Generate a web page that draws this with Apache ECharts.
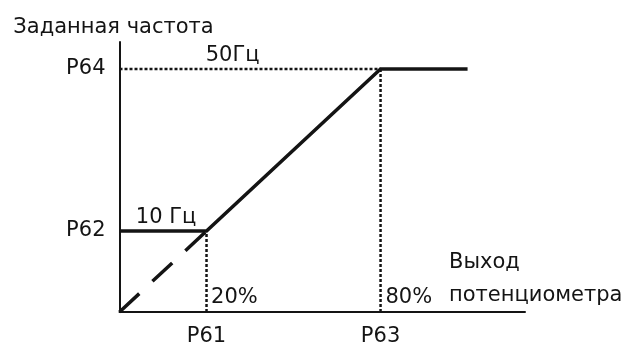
<!DOCTYPE html>
<html>
<head>
<meta charset="utf-8">
<script src="https://cdn.jsdelivr.net/npm/echarts@6/dist/echarts.min.js"></script>
<style>html,body{margin:0;padding:0;background:#fff;}#c{width:626px;height:350px;}</style>
</head>
<body>
<div id="c"></div>
<script>
// ---- data ----
const yAxisTitle = 'Заданная частота';
const xAxisTitle = 'Выход\nпотенциометра';
const xTickValues = [20, 60];
const xTickLabels = ['P61', 'P63'];
const yTickValues = [30, 90];
const yTickLabels = ['P62', 'P64'];
// characteristic (solid): P62 level, then ramp up to P64, then flat
const solidX = [0, 20, 60, 80];
const solidY = [30, 30, 90, 90];
// extrapolated ramp (dashed) from origin to P61/P62 point
const dashX = [0, 20];
const dashY = [0, 30];
// reference guides (dotted)
const guideP64X = [0, 60];
const guideP64Y = [90, 90];
const guideP61X = [20, 20];
const guideP61Y = [0, 30];
const guideP63X = [60, 60];
const guideP63Y = [0, 90];
// annotations
const noteTexts = ['50Гц', '10 Гц', '20%', '80%'];
const noteX = [26, 10.7, 26.4, 66.5];
const noteY = [95, 35, 5.5, 5.5];

const zip = (xs, ys) => xs.map((x, i) => [x, ys[i]]);
const FONT = 'DejaVu Sans';
const INK = '#141414';

const chart = echarts.init(document.getElementById('c'), null, {renderer: 'canvas'});
const dotted = (data) => ({
  type: 'line', data, symbol: 'none', silent: true,
  lineStyle: {color: INK, width: 2.5, type: [3, 2], cap: 'butt'}
});
chart.setOption({
  animation: false,
  grid: {left: 119.5, top: 42, width: 405.5, height: 270},
  xAxis: {
    type: 'value', min: 0, max: 93.2, interval: 20,
    name: xAxisTitle, nameLocation: 'end', nameGap: -76,
    nameTextStyle: {fontFamily: FONT, fontSize: 21, color: INK, align: 'left', verticalAlign: 'bottom', lineHeight: 33},
    axisLine: {lineStyle: {color: INK, width: 2}},
    axisTick: {show: false},
    splitLine: {show: false},
    axisLabel: {
      margin: 14, fontFamily: FONT, fontSize: 21, color: INK,
      showMaxLabel: false, showMinLabel: false,
      formatter: v => { const i = xTickValues.indexOf(v); return i >= 0 ? xTickLabels[i] : ''; }
    }
  },
  yAxis: {
    type: 'value', min: 0, max: 100, interval: 30,
    name: yAxisTitle, nameLocation: 'end', nameGap: 4,
    nameTextStyle: {fontFamily: FONT, fontSize: 21, color: INK, align: 'center', verticalAlign: 'bottom', padding: [0, 12, 0, 0]},
    axisLine: {show: true, lineStyle: {color: INK, width: 2}},
    axisTick: {show: false},
    splitLine: {show: false},
    axisLabel: {
      margin: 14, fontFamily: FONT, fontSize: 21, color: INK,
      showMaxLabel: false, showMinLabel: false,
      formatter: v => { const i = yTickValues.indexOf(v); return i >= 0 ? yTickLabels[i] : ''; }
    }
  },
  series: [
    dotted(zip(guideP64X, guideP64Y)),
    dotted(zip(guideP61X, guideP61Y)),
    dotted(zip(guideP63X, guideP63Y)),
    {
      type: 'line', data: zip(dashX, dashY), symbol: 'none',
      lineStyle: {color: INK, width: 3.5, type: [27, 18], cap: 'butt'}
    },
    {
      type: 'line', data: zip(solidX, solidY), symbol: 'none',
      lineStyle: {color: INK, width: 3.5, join: 'miter'}
    },
    {
      type: 'scatter', symbolSize: 0, silent: true,
      itemStyle: {opacity: 1},
      data: noteTexts.map((t, i) => ({value: [noteX[i], noteY[i]], name: t})),
      label: {
        show: true, position: 'inside', formatter: p => p.name,
        fontFamily: FONT, fontSize: 21, color: INK, opacity: 1
      }
    }
  ]
});
</script>
</body>
</html>
